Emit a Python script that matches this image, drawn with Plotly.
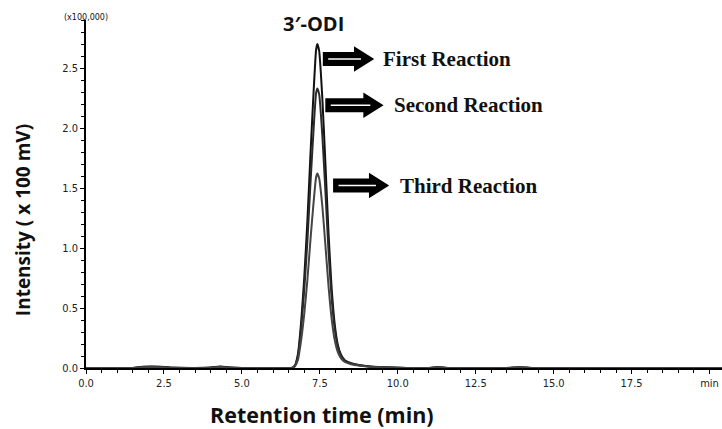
import plotly.graph_objects as go

# Retention time (min)
time = [0.0, 1.5, 1.8, 2.1, 2.4, 2.7, 3.5, 4.0, 4.3, 4.6, 5.0, 6.0,
        6.6, 6.7, 6.8, 6.9, 7.0, 7.1, 7.2, 7.3, 7.38, 7.42, 7.48, 7.58, 7.68, 7.78, 7.88, 7.98,
        8.08, 8.18, 8.3, 8.5, 8.8, 9.1, 9.6, 10.0,
        11.0, 11.3, 11.6, 12.5, 13.5, 13.9, 14.3, 15.0, 17.5, 20.4]

# Intensity (x100,000) for each reaction
first_rxn = [0.0, 0.0, 0.01, 0.012, 0.01, 0.004, 0.0, 0.004, 0.012, 0.005, 0.0, 0.0,
             0.0, 0.02, 0.12, 0.38, 0.75, 1.22, 1.78, 2.30, 2.65, 2.70, 2.64, 2.25, 1.70, 1.12, 0.66, 0.36,
             0.19, 0.11, 0.065, 0.04, 0.022, 0.013, 0.006, 0.003,
             0.0, 0.008, 0.0, 0.0, 0.0, 0.007, 0.0, 0.0, 0.0, 0.0]
second_rxn = [0.0, 0.0, 0.008, 0.01, 0.008, 0.003, 0.0, 0.003, 0.01, 0.004, 0.0, 0.0,
              0.0, 0.02, 0.10, 0.33, 0.65, 1.05, 1.54, 1.99, 2.29, 2.33, 2.28, 1.94, 1.47, 0.97, 0.58, 0.32,
              0.17, 0.10, 0.06, 0.038, 0.021, 0.012, 0.006, 0.003,
              0.0, 0.006, 0.0, 0.0, 0.0, 0.006, 0.0, 0.0, 0.0, 0.0]
third_rxn = [0.0, 0.0, 0.006, 0.008, 0.006, 0.002, 0.0, 0.002, 0.008, 0.003, 0.0, 0.0,
             0.0, 0.015, 0.07, 0.23, 0.45, 0.73, 1.07, 1.38, 1.59, 1.62, 1.58, 1.35, 1.02, 0.68, 0.41, 0.23,
             0.13, 0.08, 0.05, 0.032, 0.018, 0.01, 0.005, 0.002,
             0.0, 0.005, 0.0, 0.0, 0.0, 0.005, 0.0, 0.0, 0.0, 0.0]

series_names = ["First Reaction", "Second Reaction", "Third Reaction"]
series_vals = [first_rxn, second_rxn, third_rxn]
series_colors = ["#111111", "#2a2a2a", "#444444"]

x_tickvals = [0, 2.5, 5.0, 7.5, 10.0, 12.5, 15.0, 17.5, 20.0]
x_ticktext = ["0.0", "2.5", "5.0", "7.5", "10.0", "12.5", "15.0", "17.5", "min"]
y_tickvals = [0, 0.5, 1.0, 1.5, 2.0, 2.5]
y_ticktext = ["0.0", "0.5", "1.0", "1.5", "2.0", "2.5"]

# arrow placement for each reaction label: start x, body length, level y, label x
arrow_x = [7.62, 7.7, 7.95]
arrow_len = [1.0, 1.22, 1.15]
arrow_y = [2.575, 2.19, 1.52]
label_x = [9.45, 9.8, 10.0]

fig = go.Figure()
for name, vals, col in zip(series_names, series_vals, series_colors):
    fig.add_trace(go.Scatter(x=time, y=vals, mode="lines", name=name,
                             line=dict(color=col, width=2, shape="spline", smoothing=0.5)))

shapes = []
annots = []
for name, ax0, bl, ay, lx in zip(series_names, arrow_x, arrow_len, arrow_y, label_x):
    hl = 0.58   # head length
    bh = 0.052  # half body height
    hh = 0.095  # half head height
    path = (f"M {ax0},{ay-bh} L {ax0+bl},{ay-bh} L {ax0+bl},{ay-hh} L {ax0+bl+hl},{ay} "
            f"L {ax0+bl},{ay+hh} L {ax0+bl},{ay+bh} L {ax0},{ay+bh} Z")
    shapes.append(dict(type="path", path=path, xref="x", yref="y",
                       fillcolor="black", line=dict(color="black", width=1.5)))
    shapes.append(dict(type="line", x0=ax0 + 0.15, x1=ax0 + bl + 0.2, y0=ay, y1=ay,
                       xref="x", yref="y", line=dict(color="white", width=1.5)))
    annots.append(dict(x=lx, y=ay, xref="x", yref="y", text=f"<b>{name}</b>",
                       showarrow=False, xanchor="left", yanchor="middle",
                       font=dict(family="Liberation Serif", size=21, color="#111")))

annots.append(dict(x=7.3, y=2.87, xref="x", yref="y", yanchor="middle", xanchor="center",
                   text="<b>3′-ODI</b>", showarrow=False,
                   font=dict(family="Open Sans", size=20, color="#111")))
annots.append(dict(x=0, y=1.0, xref="paper", yref="paper", xanchor="center", yanchor="bottom",
                   text="(x100,000)", showarrow=False, yshift=-4,
                   font=dict(family="DejaVu Sans", size=8, color="#111")))
annots.append(dict(x=7.56, y=-0.135, xref="x", yref="paper", yanchor="middle", xanchor="center",
                   text="<b>Retention time (min)</b>", showarrow=False,
                   font=dict(family="Open Sans", size=21.5, color="#111")))
annots.append(dict(x=-0.099, y=0.425, xref="paper", yref="paper", textangle=-90,
                   xanchor="center", yanchor="middle",
                   text="<b>Intensity ( x 100 mV)</b>", showarrow=False,
                   font=dict(family="Open Sans", size=19, color="#111")))

fig.update_layout(
    width=722, height=429,
    margin=dict(l=86, r=0, t=20, b=61),
    paper_bgcolor="white", plot_bgcolor="white",
    showlegend=False,
    shapes=shapes, annotations=annots,
    xaxis=dict(range=[0, 20.4], tickvals=x_tickvals, ticktext=x_ticktext,
               showgrid=False, zeroline=False, showline=True, linecolor="black", linewidth=1.5,
               ticks="outside", ticklen=4, tickcolor="black",
               minor=dict(dtick=0.5, ticks="outside", ticklen=3, tickcolor="black"),
               tickfont=dict(family="DejaVu Sans Condensed", size=11, color="#222")),
    yaxis=dict(range=[0, 2.9], tickvals=y_tickvals, ticktext=y_ticktext,
               showgrid=False, zeroline=False, showline=True, linecolor="black", linewidth=1.5,
               ticks="outside", ticklen=4, tickcolor="black",
               minor=dict(dtick=0.1, ticks="outside", ticklen=3, tickcolor="black"),
               tickfont=dict(family="DejaVu Sans Condensed", size=11, color="#222")),
)

fig.write_html("out.html", config={"displayModeBar": False},
               post_script="document.body.style.margin='0';document.body.style.overflow='hidden';")
